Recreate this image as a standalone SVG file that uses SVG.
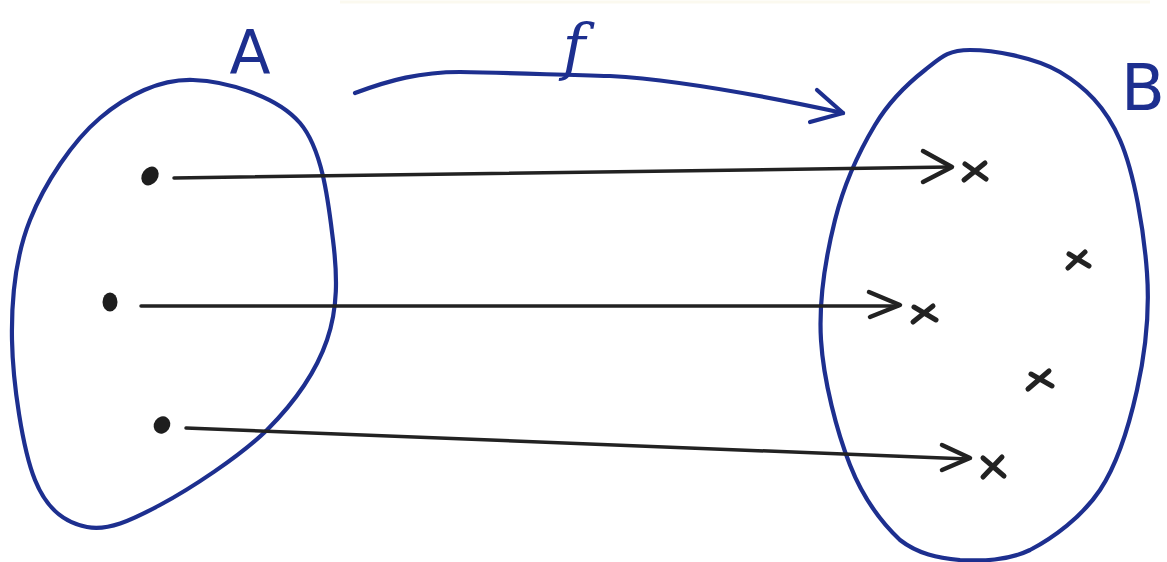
<svg xmlns="http://www.w3.org/2000/svg" width="1167" height="562" viewBox="0 0 1167 562">
<style>
.set{fill:none;stroke:#1d2f8f;stroke-width:4.2;stroke-linecap:round;stroke-linejoin:round}
.map{fill:none;stroke:#1d2f8f;stroke-width:4.2;stroke-linecap:round;stroke-linejoin:round}
.lbl{fill:#1d2f8f;font-family:"DejaVu Sans",sans-serif}
.ln{fill:none;stroke:#222;stroke-width:3.5;stroke-linecap:round}
.ah{fill:none;stroke:#222;stroke-width:4.5;stroke-linecap:round;stroke-linejoin:round}
.xm{fill:none;stroke:#222;stroke-width:5;stroke-linecap:round}
.dot{fill:#1e1e1e}
</style>
<rect width="1167" height="562" fill="#fff"/>
<line x1="340" y1="2" x2="1150" y2="2" stroke="#fbf9ef" stroke-width="3"/>
<g id="setA">
<path class="set" d="M193,80 C226,81 277,96 300,123 C323,150 328.5,204 333,240 C337.5,276 338,308 327,340 C316,372 295,402 267,430 C239,457 190,489 160,505 C130,521 108,531 87,527 C66,523 47.5,511 35,480 C22.5,449 12.8,383 12,340 C11.2,297 15.3,257 30,220 C44.7,183 72.8,141 100,118 C127,95 160,79 193,80 Z"/>
<text class="lbl" x="250" y="73" font-size="60" text-anchor="middle">A</text>
<ellipse class="dot" cx="150" cy="176" rx="8" ry="10" transform="rotate(35 150 176)"/>
<ellipse class="dot" cx="110" cy="302" rx="7.5" ry="9.5"/>
<ellipse class="dot" cx="162" cy="425" rx="8" ry="9" transform="rotate(35 162 425)"/>
</g>
<g id="setB">
<path class="set" d="M970,50 C992.5,50 1035,57 1060,72 C1085,87 1105.5,106.5 1120,140 C1134.5,173.5 1144,231 1147,273 C1150,315 1145,354 1137,390 C1129,426 1118,463 1100,490 C1082,517 1053,538 1030,550 C1007,561 982,561 960,560 C938,558 918,554 900,540 C882,523 863,498 850,465 C837,432 823.5,381 821,340 C818.5,299 826,256 835,220 C844,184 860,150 875,125 C890,100 909,82.5 925,70 C941,57.5 947.5,50 970,50 Z"/>
<text class="lbl" x="1121" y="110" font-size="64">B</text>
<path class="xm" d="M965,164 L986,179 M985,163 L964,180"/>
<path class="xm" d="M1069,254 L1089,266 M1085,252 L1068,268"/>
<path class="xm" d="M914,307 L936,320 M933,306 L913,322"/>
<path class="xm" d="M1031,374 L1052,386 M1049,371 L1028,389"/>
<path class="xm" d="M983,458 L1004,476 M1002,457 L983,477"/>
</g>
<g id="connectors">
<path class="map" d="M355,93 C390,80 420,72 460,72 C520,73 560,75 610,76 C680,80 760,95 843,113"/>
<path class="map" d="M817,90 L843,113 L810,122"/>
<text x="574" y="68" font-size="62" font-style="italic" text-anchor="middle" style="fill:#1d2f8f;font-family:'DejaVu Serif',serif">f</text>
<line class="ln" x1="174" y1="178" x2="950" y2="167"/>
<path class="ah" d="M923,151 L952,167 L923,182"/>
<line class="ln" x1="141" y1="306" x2="898" y2="306"/>
<path class="ah" d="M869,292 L900,305 L870,317"/>
<line class="ln" x1="186" y1="428" x2="968" y2="459"/>
<path class="ah" d="M942,445 L970,458 L942,470"/>
</g>
</svg>
